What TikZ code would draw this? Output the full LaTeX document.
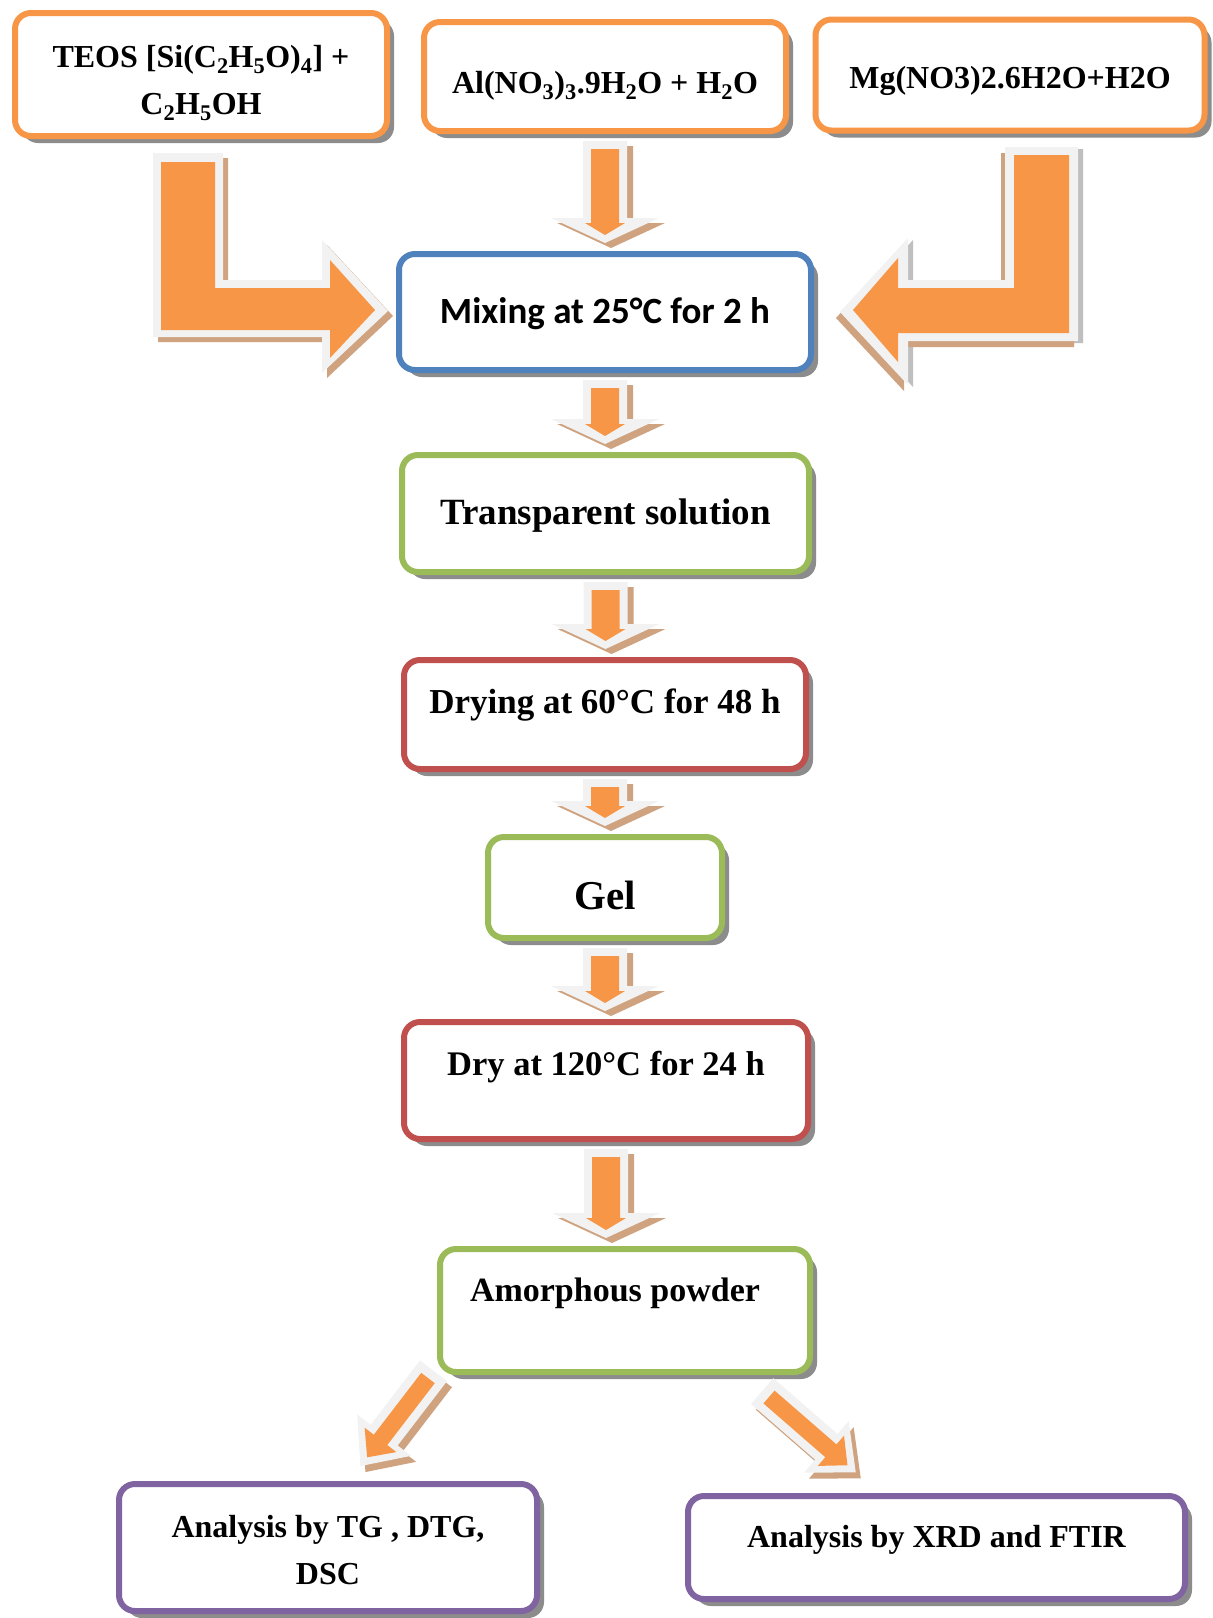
\documentclass[tikz,border=0pt]{standalone}
\usepackage{fontspec}
\setmainfont{Liberation Serif}
\newfontfamily\calfont{Carlito}
\usetikzlibrary{calc,shadows}

\definecolor{accorange}{HTML}{F79646}
\definecolor{accblue}{HTML}{4F81BD}
\definecolor{accgreen}{HTML}{9BBB59}
\definecolor{accred}{HTML}{C0504D}
\definecolor{accpurple}{HTML}{8064A2}
\definecolor{boxshadow}{HTML}{8C8C8C}
\definecolor{rimgray}{HTML}{F2F2F2}
\definecolor{tanshade}{HTML}{CFA380}
\definecolor{edgegray}{HTML}{BFBFBF}

\tikzset{
  stepbox/.style={draw=#1, line width=6pt, rounded corners=16pt, fill=white,
    inner sep=0pt, align=center, font=\bfseries,
    drop shadow={shadow xshift=7pt, shadow yshift=-7pt, fill=boxshadow, opacity=1}},
  txt/.style={font=\bfseries\fontsize{#1}{47}\selectfont},
  oneline/.style={text height=#1, text depth=0pt},
  arrowrim/.style={fill=rimgray},
  arrowfill/.style={fill=accorange},
  arrowshade/.style={fill=tanshade}
}

% two lines of text, moved down by #1
\newcommand{\twolines}[3]{\raisebox{#1}[\height][\depth]{\begin{tabular}{@{}c@{}}#2\\#3\end{tabular}}}

% straight block arrow between two boxes, (t) top, (b) tip
\newcommand{\downpoly}[1]{%
  \fill[#1] ($(t)+(-22,0)$) -- ($(t)+(22,0)$) -- ($(b)+(22,25)$) -- ($(b)+(54,25)$)
    -- (b) -- ($(b)+(-54,25)$) -- ($(b)+(-22,25)$) -- cycle;}
\newcommand{\downflow}[2]{%
  \coordinate (t) at ($(#1.south)+(0,-7)$);
  \coordinate (b0) at (#1.south |- #2.north);
  \coordinate (b) at ($(b0)+(0,8)$);
  \downpoly{arrowshade,transform canvas={shift={(6pt,-5pt)}}}
  \downpoly{arrowrim}
  \fill[arrowfill] ($(t)+(-14,-8)$) -- ($(t)+(14,-8)$) -- ($(b)+(14,20)$) -- ($(b)+(20,20)$)
    -- ($(b)+(0,8)$) -- ($(b)+(-20,20)$) -- ($(b)+(-14,20)$) -- cycle;}

% slanted block arrow: start, angle, length
\newcommand{\diagpoly}[2]{%
  \fill[#1] (-9,-17) -- (#2-28,-17) -- (#2-28,-34) -- (#2+11,0) -- (#2-28,34)
    -- (#2-28,17) -- (-9,17) -- cycle;}
\newcommand{\diagflow}[4]{%
  \begin{scope}[shift={(#1+5,#2-6)},rotate=#3]
    \diagpoly{arrowshade}{#4}
  \end{scope}
  \begin{scope}[shift={(#1,#2)},rotate=#3]
    \diagpoly{arrowrim}{#4}
    \fill[arrowfill] (0,-8.5) -- (#4-22,-8.5) -- (#4-22,-20) -- (#4,0) -- (#4-22,20)
      -- (#4-22,8.5) -- (0,8.5) -- cycle;
  \end{scope}}

\begin{document}
\begin{tikzpicture}[x=1pt,y=1pt]
\fill[white] (0,0) rectangle (1213,-1618);
\useasboundingbox (0,0) rectangle (1213,-1618);

% starting solutions
\node[stepbox=accorange, txt=32, minimum width=372pt, minimum height=123pt] (teos) at (201,-74.5)
  {\twolines{-7pt}{TEOS [Si(C\textsubscript{2}H\textsubscript{5}O)\textsubscript{4}] +}{C\textsubscript{2}H\textsubscript{5}OH}};
\node[stepbox=accorange, txt=32, oneline=21pt, minimum width=362pt, minimum height=109pt] (al) at (605,-76.5)
  {\raisebox{-6pt}{Al(NO\textsubscript{3})\textsubscript{3}.9H\textsubscript{2}O + H\textsubscript{2}O}};
\node[stepbox=accorange, txt=32, oneline=21pt, minimum width=389pt, minimum height=111pt] (mg) at (1010,-75)
  {\raisebox{-3pt}{Mg(NO3)2.6H2O+H2O}};

% process steps
\node[stepbox=accblue, font=\calfont\bfseries\fontsize{37}{47}\selectfont, oneline=23pt,
  minimum width=412pt, minimum height=116pt] (mix) at (605,-312) {Mixing at 25°C for 2 h};
\node[stepbox=accgreen, txt=37, oneline=24pt, minimum width=407pt, minimum height=117pt] (trans) at (605.5,-513.5)
  {\raisebox{1pt}{Transparent solution}};
\node[stepbox=accred, txt=35, oneline=23pt, minimum width=402pt, minimum height=109pt] (dry60) at (605,-714.5)
  {\raisebox{13pt}{Drying at 60°C for 48 h}};
\node[stepbox=accgreen, txt=41, oneline=27pt, minimum width=234pt, minimum height=101pt] (gel) at (605,-887.5)
  {\raisebox{-8pt}{Gel}};
\node[stepbox=accred, txt=34.5, oneline=23pt, minimum width=404pt, minimum height=117pt] (dry120) at (606,-1080.5)
  {\raisebox{17pt}{Dry at 120°C for 24 h}};
\node[stepbox=accgreen, txt=34, oneline=22pt, minimum width=370pt, minimum height=123pt] (amor) at (625,-1310.5)
  {\raisebox{20pt}{Amorphous powder}\kern20pt};

% analyses
\node[stepbox=accpurple, txt=32, minimum width=418pt, minimum height=127pt] (tg) at (328,-1547.5)
  {\twolines{-4pt}{Analysis by TG , DTG,}{DSC}};
\node[stepbox=accpurple, txt=32, oneline=21pt, minimum width=497pt, minimum height=103pt] (xrd) at (936.5,-1547.5)
  {\raisebox{11pt}{Analysis by XRD and FTIR}};

% bent arrows into the mixing step
\fill[arrowshade, shift={(5,-5)}] (153,-153) -- (223,-153) -- (223,-280) -- (322,-280) -- (322,-240)
  -- (388,-311) -- (322,-373) -- (322,-337) -- (153,-337) -- cycle;
\fill[arrowrim] (153,-153) -- (223,-153) -- (223,-280) -- (322,-280) -- (322,-240)
  -- (388,-311) -- (322,-373) -- (322,-337) -- (153,-337) -- cycle;
\fill[arrowfill] (161,-162) -- (215,-162) -- (215,-288) -- (330,-288) -- (330,-260)
  -- (375,-310) -- (330,-358) -- (330,-330) -- (161,-330) -- cycle;

\fill[edgegray, shift={(5,-2)}] (1005,-147) -- (1078,-147) -- (1078,-341) -- (908,-341) -- (908,-385)
  -- (840,-312) -- (908,-238) -- (908,-280) -- (1005,-280) -- cycle;
\fill[arrowshade, shift={(-4,-6)}] (1005,-147) -- (1078,-147) -- (1078,-341) -- (908,-341) -- (908,-385)
  -- (840,-312) -- (908,-238) -- (908,-280) -- (1005,-280) -- cycle;
\fill[arrowrim] (1005,-147) -- (1078,-147) -- (1078,-341) -- (908,-341) -- (908,-385)
  -- (840,-312) -- (908,-238) -- (908,-280) -- (1005,-280) -- cycle;
\fill[arrowfill] (1014,-155) -- (1069,-155) -- (1069,-333) -- (898,-333) -- (898,-362)
  -- (853,-310) -- (898,-258) -- (898,-288) -- (1014,-288) -- cycle;

% straight arrows down the chain
\downflow{al}{mix}
\downflow{mix}{trans}
\downflow{trans}{dry60}
\downflow{dry60}{gel}
\downflow{gel}{dry120}
\downflow{dry120}{amor}

% split to the two analyses
\diagflow{428}{-1378}{-127.5}{100}
\diagflow{769}{-1397}{-41}{104}
\end{tikzpicture}
\end{document}
